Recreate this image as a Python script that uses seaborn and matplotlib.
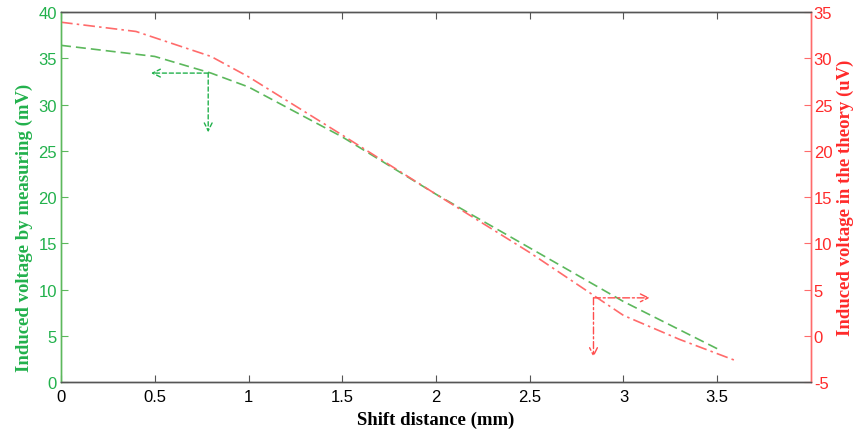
import matplotlib
matplotlib.use("Agg")
import matplotlib.pyplot as plt
import seaborn as sns
import pandas as pd

# Data
x_meas = [0.0, 0.5, 0.8, 1.0, 1.5, 2.0, 2.5, 3.0, 3.5]
v_meas = [36.4, 35.2, 33.4, 31.9, 26.5, 20.3, 14.5, 8.7, 3.6]          # mV (left axis)
x_theo = [0.0, 0.4, 0.8, 1.0, 1.5, 2.0, 2.5, 3.0, 3.3, 3.6]
v_theo = [33.9, 32.9, 30.2, 28.0, 21.7, 15.3, 9.0, 2.2, -0.4, -2.7]    # uV (right axis)

x_ticks = [0, 0.5, 1, 1.5, 2, 2.5, 3, 3.5]
x_ticklabels = ["0", "0.5", "1", "1.5", "2", "2.5", "3", "3.5"]
left_ticks = [0, 5, 10, 15, 20, 25, 30, 35, 40]
right_ticks = [-5, 0, 5, 10, 15, 20, 25, 30, 35]

# arrow annotations: (corner x, corner y, horizontal end x, vertical end y)
arrow_meas = (0.785, 33.4, 0.48, 27.0)
arrow_theo = (2.84, 4.1, 3.14, -2.3)

sns.set_style("ticks")

GREEN_TXT = "#22b14c"
GREEN_LINE = "#5cb85c"
RED_TXT = "#ff2a2a"
RED_LINE = "#ff6b6b"
RED_ARROW = "#ff4d4d"

fig = plt.figure(figsize=(8.57, 4.35), dpi=100)
ax = fig.add_axes([0.0712, 0.1195, 0.8751, 0.8505])
ax2 = ax.twinx()

df_m = pd.DataFrame({"x": x_meas, "v": v_meas})
df_t = pd.DataFrame({"x": x_theo, "v": v_theo})

sns.lineplot(data=df_m, x="x", y="v", ax=ax, color=GREEN_LINE, lw=1.2,
             linestyle=(0, (6, 3)))
sns.lineplot(data=df_t, x="x", y="v", ax=ax2, color=RED_LINE, lw=1.2,
             linestyle=(0, (7, 2.5, 1.5, 2.5)))

# arrows
cx, cy, hx, vy = arrow_meas
for end in [(hx, cy), (cx, vy)]:
    ax.annotate("", xy=end, xytext=(cx, cy),
                arrowprops=dict(arrowstyle="->", color=GREEN_TXT, lw=1.0,
                                linestyle=(0, (3, 2)), shrinkA=0, shrinkB=0,
                                mutation_scale=14))
cx, cy, hx, vy = arrow_theo
for end in [(hx, cy), (cx, vy)]:
    ax2.annotate("", xy=end, xytext=(cx, cy),
                 arrowprops=dict(arrowstyle="->", color=RED_ARROW, lw=1.0,
                                 linestyle=(0, (5, 2, 1.5, 2)), shrinkA=0, shrinkB=0,
                                 mutation_scale=14))

ax.set_xlim(0, 4)
ax.set_ylim(0, 40)
ax2.set_ylim(-5, 35)

tick_font = dict(family="Liberation Sans", size=12)
ax.set_xticks(x_ticks)
ax.set_xticklabels(x_ticklabels, **tick_font)
ax.set_yticks(left_ticks)
ax.set_yticklabels([str(t) for t in left_ticks], color=GREEN_TXT, **tick_font)
ax2.set_yticks(right_ticks)
ax2.set_yticklabels([str(t) for t in right_ticks], color=RED_TXT, **tick_font)

ax.tick_params(axis="x", direction="in", length=5, colors="#555555", labelcolor="black",
               top=True, pad=5)
ax.tick_params(axis="y", direction="in", length=5, colors=GREEN_LINE, labelcolor=GREEN_TXT, pad=3)
ax2.tick_params(axis="y", direction="in", length=5, colors=RED_LINE, labelcolor=RED_TXT, pad=2)
ax2.tick_params(axis="x", top=False)

for a in (ax, ax2):
    a.spines["top"].set_visible(True)
    a.spines["top"].set_color("#555555")
    a.spines["bottom"].set_color("#555555")
    a.spines["left"].set_color(GREEN_LINE)
    a.spines["right"].set_color(RED_LINE)
    for s in a.spines.values():
        s.set_linewidth(1.0)

lab_font = dict(family="Liberation Serif", weight="bold", size=13.5)
ax.set_xlabel("Shift distance (mm)", color="black", labelpad=5, **lab_font)
ax.set_ylabel("Induced voltage by measuring (mV)", color=GREEN_TXT, labelpad=4, **lab_font)
ax2.set_ylabel("Induced voltage in the theory (uV)", color=RED_TXT, labelpad=3, **lab_font)
ax.yaxis.label.set_y(0.42)
ax2.yaxis.label.set_y(0.5)

fig.savefig("out.png", dpi=100)
